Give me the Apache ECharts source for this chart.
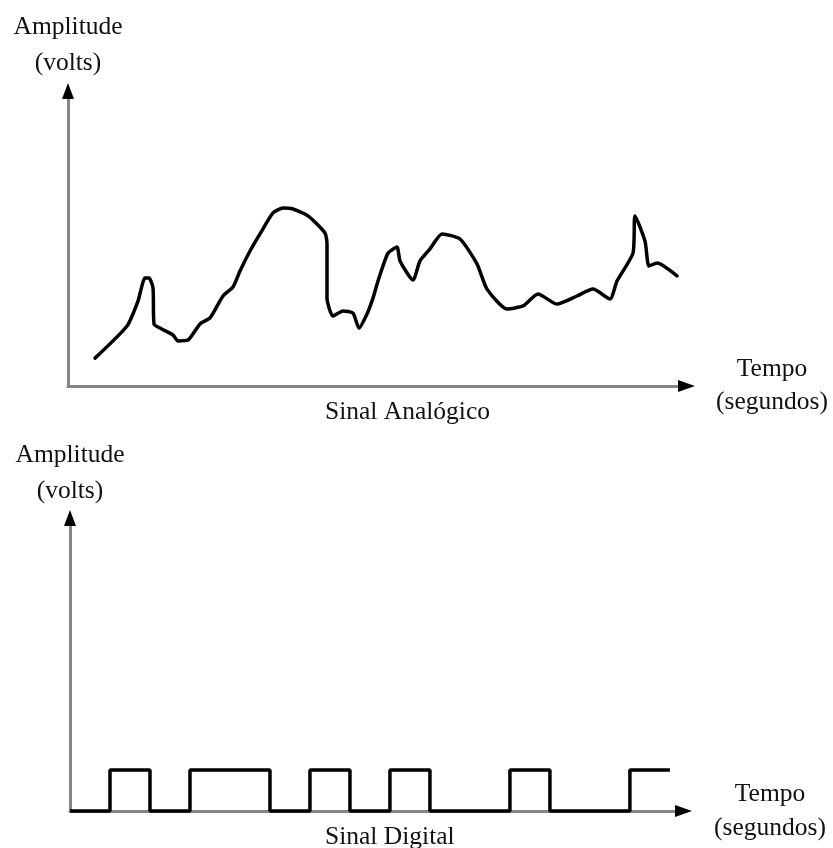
<!DOCTYPE html>
<html>
<head>
<meta charset="utf-8">
<script src="https://cdn.jsdelivr.net/npm/echarts@6/dist/echarts.min.js"></script>
<style>
html,body{margin:0;padding:0;background:#fff;}
#chart{width:833px;height:848px;}
</style>
</head>
<body>
<div id="chart"></div>
<script>
// Analog signal: time (arbitrary units) and amplitude (arbitrary units)
var analogTime = [5.4, 11.8, 14, 15.4, 16.2, 17, 17.2, 18.4, 21, 22, 24, 26.4, 28.4, 31, 33, 34.4, 36.4, 38.4, 41, 43, 45, 48, 51.4, 51.8, 51.8, 53, 55, 57, 58.2, 59.8, 61, 62, 64, 65.8, 66.4, 69, 70.4, 72.4, 74.8, 78.4, 81.8, 83.8, 87.8, 91, 94, 97.8, 101.8, 105, 108.4, 109.8, 113, 113.4, 115.4, 116.2, 117.8, 121.8];
var analogAmp = [9.3, 20, 28.3, 36, 36, 32.7, 20.7, 19.3, 17, 15, 15.3, 20.7, 22.7, 30, 33, 38.3, 45, 50.7, 57.7, 59.3, 59, 56.7, 51, 47.3, 29.3, 23.3, 25, 24.3, 19.3, 24, 29.3, 35, 44.3, 46.3, 41.7, 35.3, 41.7, 45.7, 50.7, 49, 40.7, 32.3, 25.7, 26.7, 30.7, 27.3, 30, 32.3, 29, 35, 44.3, 56.7, 48.3, 40, 41, 36.7];
// Digital signal: one bit per time slot
var digitalBits = [0, 1, 0, 1, 1, 0, 1, 0, 1, 0, 0, 1, 0, 0, 1];

var titleAnalog = 'Sinal Analógico';
var titleDigital = 'Sinal Digital';
var yName = 'Amplitude\n(volts)';
var xName = 'Tempo\n(segundos)';

var analogData = analogTime.map(function (t, i) { return [t, analogAmp[i]]; });
var digitalData = [];
digitalBits.forEach(function (b, i) { digitalData.push([i, b]); digitalData.push([i + 1, b]); });

var FONT = 'Liberation Serif';
var FS = 25.5;
var gray = '#858585';

function axisPair(dim, grid, min, max, name, opts) {
  var base = {
    type: 'value', gridIndex: grid, min: min, max: max,
    position: dim === 'x' ? 'bottom' : 'left',
    splitLine: {show: false}, axisTick: {show: false}, axisLabel: {show: false}
  };
  var a = Object.assign({}, base, {
    axisLine: {show: true, onZero: false, lineStyle: {color: gray, width: 3}}
  });
  var b = Object.assign({}, base, {
    axisLine: {show: true, onZero: false, symbol: ['none', 'triangle'],
      symbolSize: dim === 'x' ? [12, 17] : [12, 16],
      lineStyle: {color: '#000', width: 0}},
    name: name, nameLocation: 'end', nameGap: opts.gap,
    nameTextStyle: Object.assign({fontFamily: FONT, fontSize: FS, color: '#111'}, opts.text)
  });
  return [a, b];
}

var x0 = axisPair('x', 0, 0, 123.7, xName, {gap: 85.5, text: {align: 'center', verticalAlign: 'middle', lineHeight: 33, padding: [6, 0, 0, 0]}});
var x1 = axisPair('x', 1, 0, 15.34, xName, {gap: 86.5, text: {align: 'center', verticalAlign: 'middle', lineHeight: 34, padding: [6, 0, 0, 0]}});
var y0 = axisPair('y', 0, 0, 98.33, yName, {gap: 10, text: {align: 'center', lineHeight: 36}});
var y1 = axisPair('y', 1, 0, 7.146, yName, {gap: 9, text: {align: 'center', lineHeight: 36}});

var chart = echarts.init(document.getElementById('chart'));
chart.setOption({
  animation: false,
  backgroundColor: '#fff',
  title: [
    {text: titleAnalog, left: 325, top: 397, textStyle: {fontFamily: FONT, fontSize: FS, fontWeight: 'normal', color: '#111', lineHeight: 30}, padding: 0},
    {text: titleDigital, left: 325, top: 822, textStyle: {fontFamily: FONT, fontSize: FS, fontWeight: 'normal', color: '#111', lineHeight: 30}, padding: 0}
  ],
  grid: [
    {left: 68, top: 91, width: 618.5, height: 295},
    {left: 70, top: 518, width: 613.5, height: 293}
  ],
  xAxis: [x0[0], x0[1], x1[0], x1[1]],
  yAxis: [y0[0], y0[1], y1[0], y1[1]],
  series: [
    {type: 'line', xAxisIndex: 0, yAxisIndex: 0, data: analogData, smooth: 0.2, showSymbol: false, clip: false,
      lineStyle: {color: '#000', width: 3.5, cap: 'round', join: 'round'}},
    {type: 'line', xAxisIndex: 2, yAxisIndex: 2, data: digitalData, showSymbol: false, clip: false,
      lineStyle: {color: '#000', width: 3.5}}
  ]
});
</script>
</body>
</html>
